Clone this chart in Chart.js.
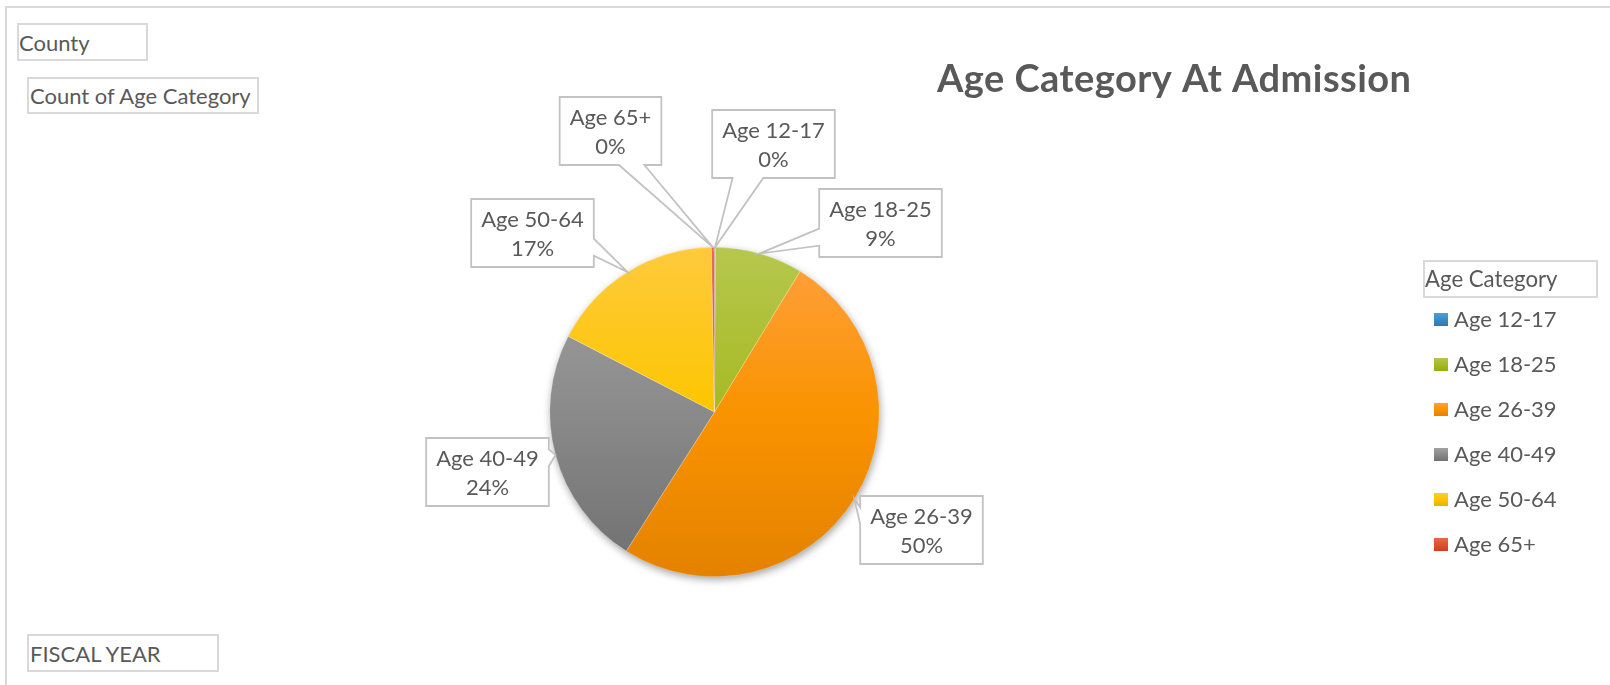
<!DOCTYPE html>
<html>
<head>
<meta charset="utf-8">
<script src="https://cdn.jsdelivr.net/npm/chart.js@4.4.1/dist/chart.umd.min.js"></script>
<style>
html,body{margin:0;padding:0;background:#fff;width:1610px;height:685px;overflow:hidden;}
#wrap{position:relative;width:1610px;height:685px;font-family:Lato,sans-serif;}
#c{position:absolute;left:0;top:0;}
.frameTop{position:absolute;left:5px;top:6px;width:1605px;height:2px;background:#d9d9d9;}
.frameLeft{position:absolute;left:5px;top:6px;width:2px;height:679px;background:#d9d9d9;}
.btn{position:absolute;box-sizing:border-box;border:2px solid #d9d9d9;color:#595959;font-size:22px;display:flex;align-items:center;padding-left:0;white-space:nowrap;background:#fff;}
</style>
</head>
<body>
<div id="wrap">
  <canvas id="c" width="1610" height="685"></canvas>
  <div class="frameTop"></div>
  <div class="frameLeft"></div>
  <div class="btn" style="left:17px;top:23px;width:131px;height:38px;">County</div>
  <div class="btn" style="left:27px;top:77px;width:232px;height:37px;padding-left:1px;">Count of Age Category</div>
  <div class="btn" style="left:27px;top:634px;width:192px;height:38px;padding-left:1px;">FISCAL YEAR</div>
</div>
<script>
// ---- data ----
const categories = ['Age 12-17', 'Age 18-25', 'Age 26-39', 'Age 40-49', 'Age 50-64', 'Age 65+'];
const counts = [1, 86, 503, 236, 171, 3];
const chartTitle = 'Age Category At Admission';
const legendTitle = 'Age Category';

// ---- styles ----
const FONT = 'Lato, sans-serif';
const TEXT = '#595959';
const gradTop = ['#4FA0D6', '#B6C74E', '#FFA140', '#A3A3A3', '#FFCA3C', '#E9694B'];
const gradMid = ['#3A8CC4', '#A6BA22', '#FA9300', '#8A8A8A', '#FCC600', '#DE5232'];
const gradBottom = ['#2C78AE', '#96AB0C', '#E48200', '#6F6F6F', '#E2B000', '#D03C1C'];
// callout box centres, offsets from pie centre (layout only)
const calloutOffsets = [
  {dx: 59, dy: -268}, {dx: 166, dy: -189}, {dx: 207, dy: 118},
  {dx: -227, dy: 60}, {dx: -182, dy: -179}, {dx: -104, dy: -281}
];

function sliceGradient(ctx, top, bottom, i) {
  const g = ctx.createLinearGradient(0, top, 0, bottom);
  g.addColorStop(0, gradTop[i]);
  g.addColorStop(0.5, gradMid[i]);
  g.addColorStop(1, gradBottom[i]);
  return g;
}

function calloutPath(ctx, l, t, w, h, tx, ty) {
  const hc = l + w / 2, vc = t + h / 2;
  const dxPos = tx - hc, dyPos = ty - vc;
  const dq = dxPos * h / w;
  const dz = Math.abs(dyPos) - Math.abs(dq);
  const x1 = l + w * (dxPos > 0 ? 7 : 2) / 12, x2 = l + w * (dxPos > 0 ? 10 : 5) / 12;
  const y1 = t + h * (dyPos > 0 ? 7 : 2) / 12, y2 = t + h * (dyPos > 0 ? 10 : 5) / 12;
  ctx.beginPath();
  ctx.moveTo(l, t);
  if (dz > 0 && dyPos < 0) { ctx.lineTo(x1, t); ctx.lineTo(tx, ty); ctx.lineTo(x2, t); }
  ctx.lineTo(l + w, t);
  if (dz <= 0 && dxPos > 0) { ctx.lineTo(l + w, y1); ctx.lineTo(tx, ty); ctx.lineTo(l + w, y2); }
  ctx.lineTo(l + w, t + h);
  if (dz > 0 && dyPos > 0) { ctx.lineTo(x2, t + h); ctx.lineTo(tx, ty); ctx.lineTo(x1, t + h); }
  ctx.lineTo(l, t + h);
  if (dz <= 0 && dxPos < 0) { ctx.lineTo(l, y2); ctx.lineTo(tx, ty); ctx.lineTo(l, y1); }
  ctx.closePath();
}

const shadowPlugin = {
  id: 'pieShadow',
  beforeDatasetsDraw(chart) {
    const arc = chart.getDatasetMeta(0).data[0];
    if (!arc) return;
    const {x, y, outerRadius} = arc.getProps(['x', 'y', 'outerRadius'], true);
    const ctx = chart.ctx;
    ctx.save();
    ctx.shadowColor = 'rgba(0,0,0,0.40)';
    ctx.shadowBlur = 9;
    ctx.shadowOffsetX = 1;
    ctx.shadowOffsetY = 3;
    ctx.fillStyle = '#ffffff';
    ctx.beginPath();
    ctx.arc(x, y, outerRadius - 0.5, 0, Math.PI * 2);
    ctx.fill();
    ctx.restore();
  }
};

const calloutPlugin = {
  id: 'callouts',
  afterDatasetsDraw(chart) {
    const ctx = chart.ctx;
    const meta = chart.getDatasetMeta(0);
    const values = chart.data.datasets[0].data;
    const total = values.reduce((a, b) => a + b, 0);
    ctx.save();
    ctx.font = '22px ' + FONT;
    meta.data.forEach((arc, i) => {
      const p = arc.getProps(['x', 'y', 'startAngle', 'endAngle', 'outerRadius'], true);
      const mid = (p.startAngle + p.endAngle) / 2;
      const tx = p.x + Math.cos(mid) * p.outerRadius;
      const ty = p.y + Math.sin(mid) * p.outerRadius;
      const lines = [chart.data.labels[i], Math.round(values[i] / total * 100) + '%'];
      const tw = Math.max(...lines.map(s => ctx.measureText(s).width));
      const w = tw + 20, h = 68;
      const cx = p.x + calloutOffsets[i].dx, cy = p.y + calloutOffsets[i].dy;
      const l = cx - w / 2, t = cy - h / 2;
      calloutPath(ctx, l, t, w, h, tx, ty);
      ctx.fillStyle = '#ffffff';
      ctx.fill();
      ctx.strokeStyle = '#C2C2C2';
      ctx.lineWidth = 1.8;
      ctx.stroke();
      ctx.fillStyle = TEXT;
      ctx.textAlign = 'center';
      ctx.textBaseline = 'alphabetic';
      ctx.fillText(lines[0], cx, cy - 6);
      ctx.fillText(lines[1], cx, cy + 23);
    });
    ctx.restore();
  }
};

const decorPlugin = {
  id: 'decor',
  afterDraw(chart) {
    const ctx = chart.ctx;
    ctx.save();
    // title, spread to the reference's text width
    ctx.fillStyle = TEXT;
    ctx.font = 'bold 38px ' + FONT;
    ctx.textAlign = 'left';
    ctx.textBaseline = 'alphabetic';
    const natural = ctx.measureText(chartTitle).width;
    const spacing = Math.max(0, (474 - natural) / (chartTitle.length - 1));
    ctx.letterSpacing = spacing.toFixed(2) + 'px';
    ctx.fillText(chartTitle, 937, 92);
    ctx.letterSpacing = '0px';
    // legend title box
    ctx.strokeStyle = '#D9D9D9';
    ctx.lineWidth = 2;
    ctx.strokeRect(1424, 261, 173, 36);
    ctx.font = '22.2px ' + FONT;
    ctx.fillText(legendTitle, 1425, 287);
    // legend items
    ctx.font = '22px ' + FONT;
    chart.data.labels.forEach((lab, i) => {
      const yc = 319.5 + i * 45;
      ctx.fillStyle = sliceGradient(ctx, yc - 7, yc + 7, i);
      ctx.fillRect(1434, yc - 6.5, 14, 13);
      ctx.fillStyle = TEXT;
      ctx.fillText(lab, 1454, yc + 7.5);
    });
    ctx.restore();
  }
};

new Chart(document.getElementById('c'), {
  type: 'pie',
  data: {
    labels: categories,
    datasets: [{
      data: counts,
      backgroundColor: (c) => {
        const area = c.chart.chartArea;
        if (!area) return gradMid[c.dataIndex];
        return sliceGradient(c.chart.ctx, area.top, area.bottom, c.dataIndex);
      },
      borderColor: 'rgba(255,255,255,0.35)',
      borderWidth: 0.6
    }]
  },
  options: {
    responsive: false,
    animation: false,
    layout: {padding: {left: 549, right: 730, top: 247, bottom: 108}},
    plugins: {
      legend: {display: false},
      tooltip: {enabled: false},
      title: {display: false}
    }
  },
  plugins: [shadowPlugin, calloutPlugin, decorPlugin]
});
</script>
</body>
</html>
